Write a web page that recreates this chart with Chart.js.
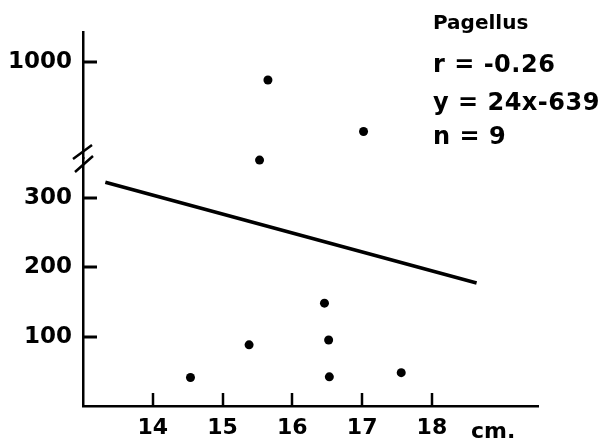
<!DOCTYPE html>
<html>
<head>
<meta charset="utf-8">
<script src="https://cdn.jsdelivr.net/npm/chart.js@4.4.0/dist/chart.umd.min.js"></script>
<style>
  html, body { margin: 0; padding: 0; background: #fff; }
  #wrap { width: 607px; height: 446px; }
</style>
</head>
<body>
<div id="wrap"><canvas id="myChart" width="607" height="446"></canvas></div>
<script>
// tick values
const xTicks = [14, 15, 16, 17, 18];
const lowerTicks = [100, 200, 300];
const upperTicks = [1000];

// points below the axis break (length cm, value)
const lowerLength = [14.54, 15.38, 15.53, 16.46, 16.52, 16.53, 17.56];
const lowerValues = [41, 88, 354, 148, 95, 42, 48];

// points above the axis break
const upperLength = [15.65, 17.02];
const upperValues = [974, 900];

// regression line end points
const fitLength = [13.32, 18.64];
const fitValues = [322, 177];

const notes = ["r = -0.26", "y = 24x-639", "n = 9"];

const fontName = "'DejaVu Sans', sans-serif";
const ctx = document.getElementById("myChart");

const toPoints = (xs, ys) => xs.map((x, i) => ({ x: x, y: ys[i] }));

// draws the inward tick marks, the axis break and the text block
const extras = {
  id: "extras",
  afterDraw(chart) {
    const c = chart.ctx;
    const { x, y, y2 } = chart.scales;
    const left = chart.chartArea.left;
    const bottom = chart.chartArea.bottom;
    c.save();
    c.strokeStyle = "#000";
    c.fillStyle = "#000";
    c.lineWidth = 2.5;
    c.lineCap = "butt";
    xTicks.forEach((v) => {
      const px = Math.round(x.getPixelForValue(v));
      c.beginPath();
      c.moveTo(px, bottom);
      c.lineTo(px, bottom - 13);
      c.stroke();
    });
    c.lineWidth = 3;
    lowerTicks.forEach((v) => {
      const py = Math.round(y.getPixelForValue(v));
      c.beginPath();
      c.moveTo(left, py);
      c.lineTo(left + 14, py);
      c.stroke();
    });
    upperTicks.forEach((v) => {
      const py = Math.round(y2.getPixelForValue(v));
      c.beginPath();
      c.moveTo(left, py);
      c.lineTo(left + 14, py);
      c.stroke();
    });

    // break marks
    const bp = y.top;
    c.lineWidth = 2.5;
    c.beginPath();
    c.moveTo(left - 10, bp + 1);
    c.lineTo(left + 9, bp - 13);
    c.moveTo(left - 8, bp + 14);
    c.lineTo(left + 10, bp - 2);
    c.stroke();

    // unit label
    c.font = "bold 22px " + fontName;
    c.textAlign = "left";
    c.textBaseline = "alphabetic";
    c.fillText("cm.", 471, 438);

    // annotation
    c.font = "bold 20px " + fontName;
    c.fillText("Pagellus", 433, 29);
    c.font = "bold 24px " + fontName;
    c.letterSpacing = "0.5px";
    c.fillText(notes[0], 433, 72);
    c.fillText(notes[1], 433, 110);
    c.fillText(notes[2], 433, 144);
    c.restore();
  },
};

const yCommon = {
  position: "left",
  stack: "v",
  border: { color: "#000", width: 2.5 },
  grid: { display: false, drawTicks: false },
  ticks: {
    color: "#000",
    padding: 11,
    font: { family: fontName, size: 23, weight: "bold" },
    callback: (v) => String(v),
  },
  afterFit: (s) => { s.width = 83; },
};

new Chart(ctx, {
  type: "scatter",
  data: {
    datasets: [
      {
        data: toPoints(lowerLength, lowerValues),
        yAxisID: "y",
        clip: false,
        pointRadius: 4.5,
        pointBackgroundColor: "#000",
        pointBorderColor: "#000",
        pointBorderWidth: 0,
      },
      {
        data: toPoints(upperLength, upperValues),
        yAxisID: "y2",
        clip: false,
        pointRadius: 4.5,
        pointBackgroundColor: "#000",
        pointBorderColor: "#000",
        pointBorderWidth: 0,
      },
      {
        type: "line",
        data: toPoints(fitLength, fitValues),
        yAxisID: "y",
        borderColor: "#000",
        borderWidth: 3.5,
        pointRadius: 0,
        fill: false,
      },
    ],
  },
  options: {
    responsive: false,
    animation: false,
    layout: { padding: { top: 32, right: 69, left: 0, bottom: 0 } },
    plugins: {
      legend: { display: false },
      tooltip: { enabled: false },
    },
    scales: {
      x: {
        type: "linear",
        min: 13,
        max: 19.52,
        border: { color: "#000", width: 2.5 },
        grid: { display: false, drawTicks: false },
        ticks: {
          color: "#000",
          padding: 9,
          font: { family: fontName, size: 22, weight: "bold" },
        },
        afterBuildTicks: (s) => { s.ticks = xTicks.map((v) => ({ value: v })); },
        afterFit: (s) => { s.height = 40; },
      },
      y: Object.assign({}, yCommon, {
        type: "linear",
        min: 0,
        max: 357,
        stackWeight: 248,
        afterBuildTicks: (s) => { s.ticks = lowerTicks.map((v) => ({ value: v })); },
      }),
      y2: Object.assign({}, yCommon, {
        type: "linear",
        min: 862,
        max: 1043,
        stackWeight: 126,
        afterBuildTicks: (s) => { s.ticks = upperTicks.map((v) => ({ value: v })); },
      }),
    },
  },
  plugins: [extras],
});
</script>
</body>
</html>
